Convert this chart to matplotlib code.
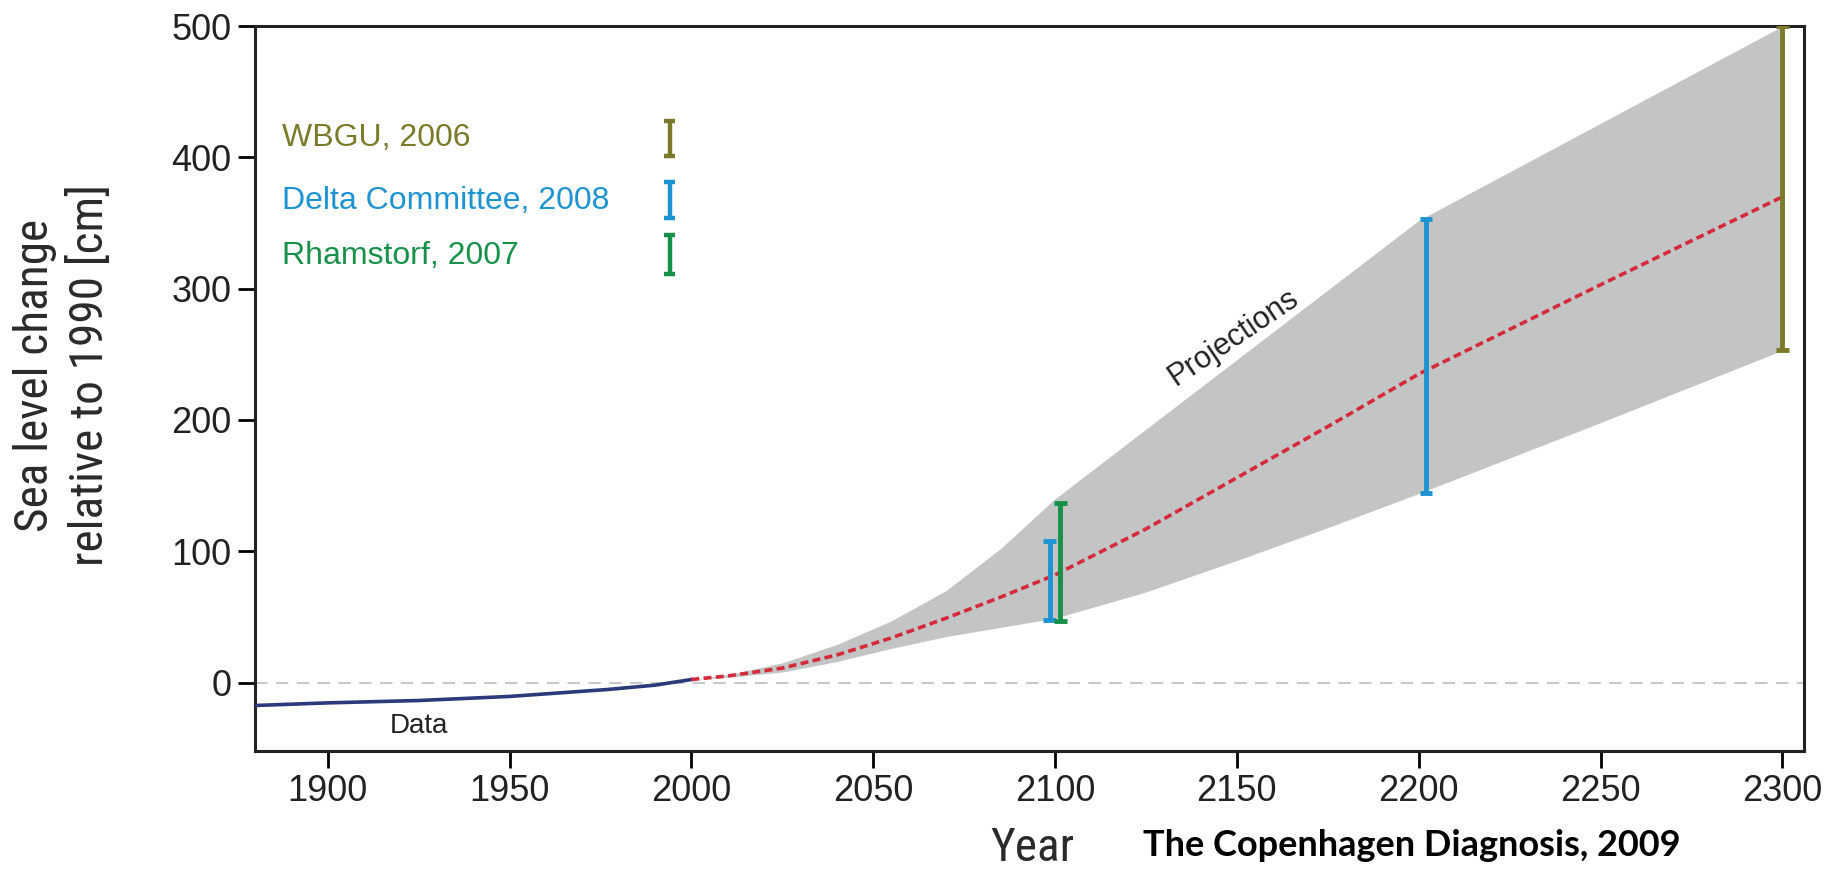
import numpy as np
import matplotlib
matplotlib.use("Agg")
import matplotlib.pyplot as plt
from matplotlib import font_manager as fm

# observed sea level (cm, relative to 1990)
data_years = [1880, 1900, 1925, 1950, 1977, 1990, 2000]
data_values = [-17.5, -15.5, -13.7, -10.6, -5.3, -2.0, 2.3]

# projection: central estimate and shaded range
proj_years = [2000, 2010, 2025, 2040, 2055, 2070, 2085, 2100,
              2125, 2150, 2175, 2200, 2250, 2300]
proj_mid = [2.3, 5, 11, 21, 34, 49, 65, 82, 117, 156, 195, 235, 303, 370]
proj_low = [2.3, 4, 8, 16, 26, 35, 42, 49, 69, 93, 118, 144, 198, 253]
proj_high = [2.3, 6, 15, 29, 47, 70, 102, 140, 193, 246, 299, 352, 426, 500]

# published estimates as ranges
est_names = ["WBGU, 2006", "Delta Committee, 2008", "Rhamstorf, 2007"]
est_colors = ["#7b7a2b", "#1e93d2", "#17904a"]
est_years = [[2300], [2098.5, 2202], [2101.5]]
est_low = [[253], [48, 144], [47]]
est_high = [[500], [108, 353], [137]]

# small key bars drawn next to the names
key_year = 1994
key_low = [401, 354, 311]
key_high = [428, 381, 341]
key_text_y = [415, 367, 325]

plt.rcParams['font.family'] = ['Liberation Sans', 'DejaVu Sans']

# a narrow face for the axis titles, if one is around
names = {f.name for f in fm.fontManager.ttflist}
narrow = dict(family=['DejaVu Sans'], fontstretch='normal')
narrow_ok = False
for cand in ['Liberation Sans Narrow', 'Roboto Condensed', 'Open Sans Condensed']:
    if cand in names:
        narrow = dict(family=[cand, 'DejaVu Sans'])
        narrow_ok = True
        break
if not narrow_ok:
    for f in fm.fontManager.ttflist:
        if f.name == 'DejaVu Sans' and str(f.stretch) in ('condensed', 'semi-condensed'):
            narrow = dict(family=['DejaVu Sans'], fontstretch='condensed')
            narrow_ok = True
            break
lab_size = 34 if narrow_ok else 28

fig = plt.figure(figsize=(18.41, 8.72), dpi=100)
ax = fig.add_axes([0.1385, 0.139, 0.98 - 0.1385, 0.970 - 0.139])

ax.axhline(0, color="#c8c8c8", lw=1.5, ls=(0, (6, 4)), zorder=1)
ax.fill_between(proj_years, proj_low, proj_high, color="#c3c5c4", lw=0, zorder=2)
ax.plot(data_years, data_values, color="#2b3a7a", lw=2.6, zorder=4)
ax.plot(proj_years, proj_mid, color="#d42a3c", lw=2.6, ls=(0, (2.2, 1.2)), zorder=4)

for name, c, xs, lo, hi in zip(est_names, est_colors, est_years, est_low, est_high):
    for x, l, h in zip(xs, lo, hi):
        ax.vlines(x, l, h, color=c, lw=3.5, zorder=5)
        ax.hlines([l, h], x - 1.7, x + 1.7, color=c, lw=3.5, zorder=5)

for name, c, l, h, ty in zip(est_names, est_colors, key_low, key_high, key_text_y):
    ax.text(1887.5, ty, name, color=c, fontsize=23, va="center", ha="left")
    ax.vlines(key_year, l, h, color=c, lw=3.2, zorder=5)
    ax.hlines([l, h], key_year - 1.4, key_year + 1.4, color=c, lw=3.2, zorder=5)

ax.text(1925, -33, "Data", fontsize=20, ha="center", va="center", color="#222222")
ax.text(2149, 263, "Projections", fontsize=22, ha="center", va="center",
        rotation=34, color="#222222")

ax.set_xlim(1880, 2306)
ax.set_ylim(-52, 500)
ax.set_xticks(range(1900, 2301, 50))
ax.set_yticks(range(0, 501, 100))
ax.tick_params(labelsize=26, length=12, width=2, direction="out", pad=5,
               labelcolor="#222222")
for s in ax.spines.values():
    s.set_linewidth(2.2)
    s.set_color("#222222")

fig.text(0.034, 0.570, "Sea level change\nrelative to 1990 [cm]",
         fontsize=lab_size, rotation=90, ha="center", va="center",
         color="#2a2a2a", linespacing=1.3, **narrow)
fig.text(0.561, 0.027, "Year", fontsize=lab_size, ha="center", va="center",
         color="#2a2a2a", **narrow)
fig.text(0.767, 0.030, "The Copenhagen Diagnosis, 2009", family=['Lato', 'DejaVu Sans'],
         fontweight="bold", fontsize=26, ha="center", va="center", color="black")

fig.savefig("out.png", dpi=100)
